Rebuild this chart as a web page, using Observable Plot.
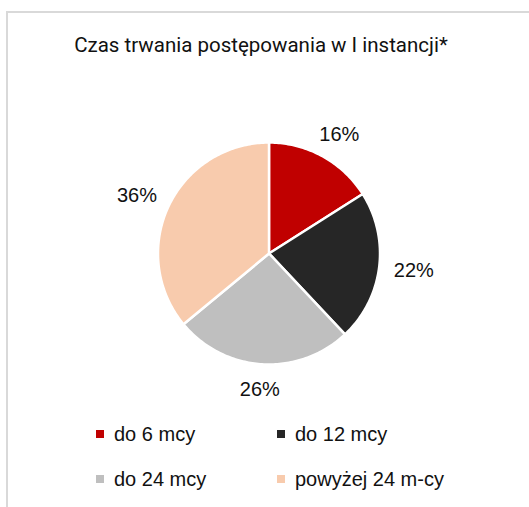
<!DOCTYPE html>
<html>
<head>
<meta charset="utf-8">
<script src="https://cdn.jsdelivr.net/npm/d3@7"></script>
<script src="https://cdn.jsdelivr.net/npm/@observablehq/plot@0.6"></script>
<style>
  html, body { margin: 0; padding: 0; background: #fff; }
  #wrap { position: relative; width: 529px; height: 507px; overflow: hidden; background: #fff; }
  #frame { position: absolute; left: 6px; top: 11px; width: 600px; height: 600px;
           border-left: 2px solid #d9d9d9; border-top: 2px solid #d9d9d9; box-sizing: border-box; }
  #title { position: absolute; left: 0; width: 522px; top: 33px; text-align: center;
           font-family: Roboto, sans-serif; font-size: 20.5px; color: #111; white-space: nowrap; }
  #chart { position: absolute; left: 0; top: 0; }
  .leg { position: absolute; font-family: "Liberation Sans", Arial, sans-serif; font-size: 20px;
         color: #111; white-space: nowrap; line-height: 1; }
  .leg span.sw { display: inline-block; width: 8px; height: 8px; margin-right: 10px; vertical-align: 3px; }
</style>
</head>
<body>
<div id="wrap">
  <div id="frame"></div>
  <div id="title"></div>
  <div id="chart"></div>
  <div id="legend"></div>
</div>
<script>
const title = "Czas trwania postępowania w I instancji*";
const categories = ["do 6 mcy", "do 12 mcy", "do 24 mcy", "powyżej 24 m-cy"];
const values = [16, 22, 26, 36];
const labels = ["16%", "22%", "26%", "36%"];
const colors = ["#C00000", "#262626", "#BFBFBF", "#F8CBAD"];

document.getElementById("title").textContent = title;

// pie geometry (unit circle in data space)
const pie = d3.pie().sort(null).value(d => d.value)(categories.map((c, i) => ({name: c, value: values[i], label: labels[i]})));
const slicePts = [];
pie.forEach(p => {
  slicePts.push({name: p.data.name, x: 0, y: 0});
  const n = Math.max(2, Math.ceil((p.endAngle - p.startAngle) / (Math.PI / 180)));
  for (let k = 0; k <= n; k++) {
    const a = p.startAngle + (p.endAngle - p.startAngle) * k / n;
    slicePts.push({name: p.data.name, x: Math.sin(a), y: Math.cos(a)});
  }
});
// outside-end labels: anchor just outside the rim, shifted by half the label box
const R = 111, cx = 268.5, cy = 253, W = 529, H = 410;
const labelPts = pie.map(p => {
  const a = (p.startAngle + p.endAngle) / 2;
  return {label: p.data.label, x: (126 + 20) / R * Math.sin(a), y: (126 + 10) / R * Math.cos(a)};
});

const chart = Plot.plot({
  width: W, height: H,
  margin: 0,
  x: {domain: [-cx / R, (W - cx) / R], axis: null},
  y: {domain: [-(H - cy) / R, cy / R], axis: null},
  color: {domain: categories, range: colors},
  style: {background: "transparent"},
  marks: [
    Plot.line(slicePts, {x: "x", y: "y", z: "name", fill: "name", stroke: "white",
      strokeWidth: 2.5, strokeLinejoin: "round", curve: "linear-closed"}),
    Plot.text(labelPts, {x: "x", y: "y", text: "label", fontSize: 20,
      fontFamily: "Liberation Sans, Arial, sans-serif", fill: "#111"})
  ]
});
document.getElementById("chart").appendChild(chart);

// legend
const legPos = [[96, 424], [277, 424], [96, 469], [277, 469]];
const leg = document.getElementById("legend");
categories.forEach((c, i) => {
  const d = document.createElement("div");
  d.className = "leg";
  d.style.left = legPos[i][0] + "px";
  d.style.top = legPos[i][1] + "px";
  const sw = document.createElement("span");
  sw.className = "sw";
  sw.style.background = colors[i];
  d.appendChild(sw);
  d.appendChild(document.createTextNode(c));
  leg.appendChild(d);
});
</script>
</body>
</html>
